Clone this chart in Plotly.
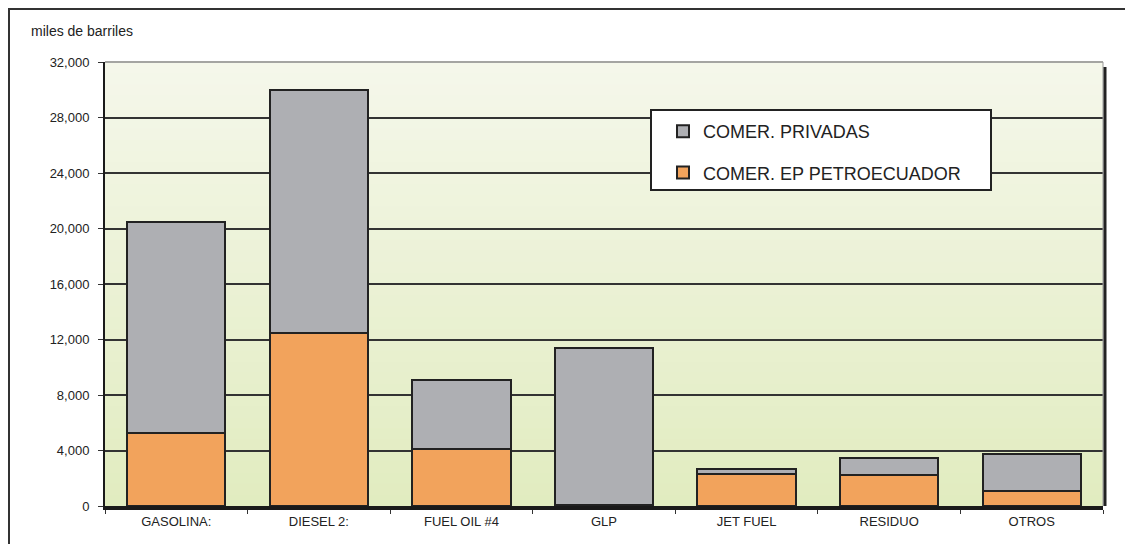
import plotly.graph_objects as go

categories = ["GASOLINA:", "DIESEL 2:", "FUEL OIL #4", "GLP", "JET FUEL", "RESIDUO", "OTROS"]
petroecuador = [5250, 12500, 4100, 100, 2280, 2250, 1070]
privadas = [15200, 17450, 4950, 11300, 380, 1200, 2650]
y_ticks = [0, 4000, 8000, 12000, 16000, 20000, 24000, 28000, 32000]

OFF = 8  # page offset of the figure in the screenshot
W, H = 1133 - OFF, 544 - OFF
L, T = 105 - OFF, 62 - OFF
R = W - (1103 - OFF)
B = H - (506 - OFF)
pw, ph = W - L - R, H - T - B


def px(x):
    return (x - OFF - L) / pw


def py(y):
    return (H - B - (y - OFF)) / ph


fig = go.Figure()
fig.add_trace(go.Bar(
    x=categories, y=petroecuador, name="COMER. EP PETROECUADOR",
    marker=dict(color="#f2a35c", line=dict(color="#222222", width=2)),
    legendgroup="b", legendrank=2,
))
fig.add_trace(go.Bar(
    x=categories, y=privadas, name="COMER. PRIVADAS",
    marker=dict(color="#aeafb3", line=dict(color="#222222", width=2)),
    legendgroup="a", legendrank=1,
))

shapes = []
# gradient background of the plot area
top_c = (245, 247, 234)
bot_c = (225, 236, 192)
n = 40
for i in range(n):
    t = i / (n - 1)
    c = tuple(int(round(bot_c[k] + (top_c[k] - bot_c[k]) * t)) for k in range(3))
    shapes.append(dict(type="rect", xref="paper", yref="paper",
                       x0=0, x1=1, y0=i / n, y1=(i + 1) / n + 0.002,
                       fillcolor="rgb(%d,%d,%d)" % c, line=dict(width=0), layer="below"))
# outer frame
shapes.append(dict(type="rect", xref="paper", yref="paper",
                   x0=px(9), x1=px(1131), y0=py(600), y1=py(9),
                   line=dict(color="#333333", width=2), fillcolor="rgba(0,0,0,0)", layer="above"))
# plot area top border (gray) and right shadow
shapes.append(dict(type="line", xref="paper", yref="paper", x0=0, x1=1, y0=1, y1=1,
                   line=dict(color="#8a8a8a", width=1.5), layer="above"))
shapes.append(dict(type="line", xref="paper", yref="paper", x0=1, x1=1, y0=0, y1=1,
                   line=dict(color="#9a9a9a", width=1), layer="above"))
shapes.append(dict(type="line", xref="paper", yref="paper", x0=px(1105), x1=px(1105), y0=0, y1=py(67),
                   line=dict(color="#222222", width=3), layer="above"))
# legend box
shapes.append(dict(type="rect", xref="paper", yref="paper",
                   x0=px(651), x1=px(991), y0=py(190), y1=py(110),
                   line=dict(color="#222222", width=2), fillcolor="white", layer="above"))

fig.update_layout(
    width=W, height=H,
    margin=dict(l=L, r=R, t=T, b=B),
    barmode="stack", bargap=0.31,
    paper_bgcolor="white", plot_bgcolor="rgba(0,0,0,0)",
    font=dict(family="Liberation Sans, Arial, sans-serif", color="#222222", size=13),
    shapes=shapes,
    showlegend=True,
    legend=dict(x=px(663), y=py(113), xanchor="left", yanchor="top",
                bgcolor="rgba(0,0,0,0)", borderwidth=0,
                font=dict(size=18, color="#222222"),
                traceorder="grouped", tracegroupgap=15),
    annotations=[dict(text="miles de barriles", xref="paper", yref="paper",
                      x=px(29), y=py(31), xanchor="left", yanchor="middle",
                      showarrow=False, font=dict(size=14, color="#222222"))],
)
fig.update_xaxes(showline=True, linecolor="#1a1a1a", linewidth=4,
                 ticks="outside", tickson="boundaries", ticklen=4, tickcolor="#333333",
                 tickfont=dict(size=13), showgrid=False)
fig.update_yaxes(range=[0, 32000], tickvals=y_ticks, tickformat=",",
                 showline=True, linecolor="#1a1a1a", linewidth=2,
                 ticks="outside", ticklen=5, tickcolor="#333333",
                 ticklabelstandoff=6, tickfont=dict(size=13),
                 showgrid=True, gridcolor="#333333", gridwidth=2, zeroline=False)

fig.write_html("out.html")
